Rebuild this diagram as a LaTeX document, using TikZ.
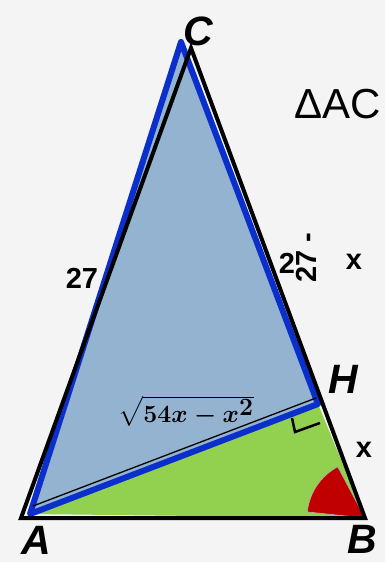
\documentclass[tikz,border=0pt]{standalone}
\usepackage{fontspec}
\setmainfont{Liberation Sans}
\usepackage{amsmath}
\usepackage{tikz}
\usetikzlibrary{calc}
\definecolor{bgpaper}{HTML}{F4F4F4}
\definecolor{triblue}{HTML}{0A2FCC}
\definecolor{fillblue}{HTML}{93B3D0}
\definecolor{fillgreen}{HTML}{92D050}
\definecolor{anglered}{HTML}{C00000}
\tikzset{
  sideline/.style  = {draw=black, line width=4pt, line join=miter},
  blueline/.style  = {draw=triblue, line width=6pt, line join=round},
  thinline/.style  = {draw=black, line width=1.3pt},
  vertexlab/.style = {font=\fontsize{41}{43}\selectfont\bfseries\itshape, inner sep=0pt},
  sidelab/.style   = {font=\fontsize{29}{31}\selectfont\bfseries, inner sep=0pt},
  titlelab/.style  = {font=\fontsize{42}{44}\selectfont, inner sep=0pt},
  rootlab/.style   = {font=\fontsize{37}{39}\selectfont\boldmath, inner sep=0pt},
  anglemark/.style = {fill=anglered, draw=gray!60, line width=0.6pt},
  rightmark/.style = {draw=black, line width=2.5pt},
}
\begin{document}
\begin{tikzpicture}[x=1pt, y=-1pt]
  \fill[bgpaper] (0,0) rectangle (385,562);
  \useasboundingbox (0,0) rectangle (385,562);
  % corners of the big triangle
  \coordinate (A) at (21,518);
  \coordinate (B) at (365,518);
  \coordinate (C) at (191,48);
  \coordinate (H) at (319,402);
  % corners of the blue triangle
  \coordinate (a) at (30,514);
  \coordinate (c) at (181,42);
  \coordinate (h) at (318,404);
  % fills
  \fill[fillblue] (a) -- (c) -- (h) -- cycle;
  \fill[fillgreen] (a) -- (h) -- (B) -- cycle;
  \draw[anglemark] (B) -- ++(-174:58) arc[start angle=-174, end angle=-118, radius=58] -- cycle;
  % blue triangle
  \draw[blueline] (a) -- (c) -- (h) -- cycle;
  \draw[thinline] ($(a)+(3,-8)$) -- ($(h)+(-2,-6)$);
  % right angle at H
  \draw[rightmark] (292,418) -- (295,432) -- (320,423);
  % big triangle
  \draw[sideline] (A) -- (B) -- (C) -- cycle;
  % labels
  \node[vertexlab] (lC) at (198,31) {C};
  \node[vertexlab] (lA) at (36,540) {A};
  \node[vertexlab] (lB) at (362,539) {B};
  \node[vertexlab] (lH) at (343,379) {H};
  \node[titlelab] (title) at (338,104) {ΔAC};
  \node[sidelab] (s27) at (82,278) {27};
  \node[sidelab] (s2) at (287,263) {2};
  \node[sidelab, rotate=90] (s27r) at (306,258) {27 -};
  \node[sidelab] (sx) at (354,262) {x};
  \node[sidelab] (hx) at (364,450) {x};
  \node[rootlab] (root) at (186,411) {$\sqrt{54x-x^2}$};
\end{tikzpicture}
\end{document}
